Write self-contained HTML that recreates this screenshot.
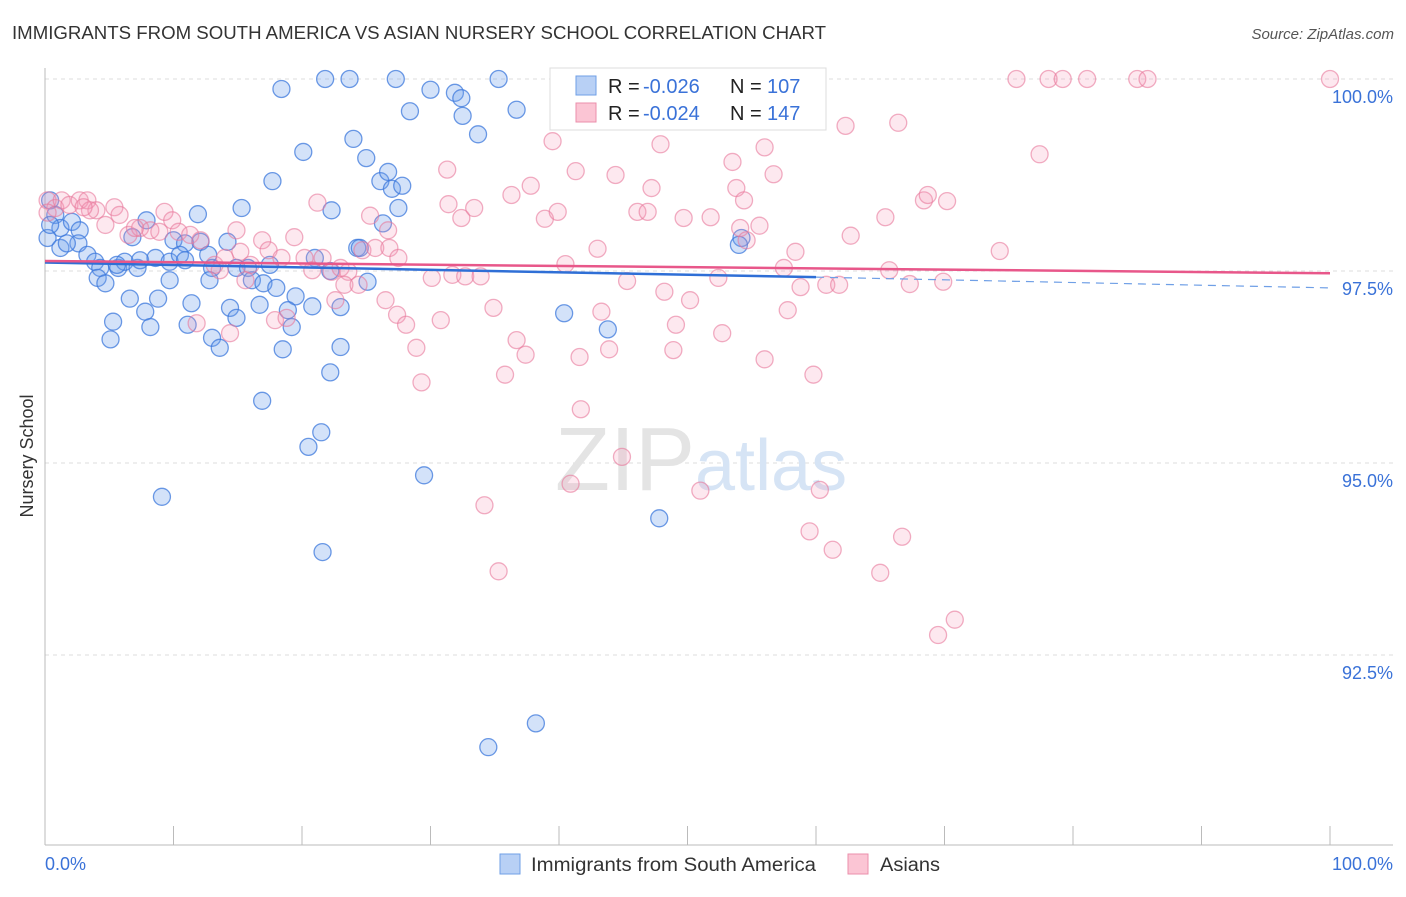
<!DOCTYPE html>
<html><head><meta charset="utf-8"><style>
body{margin:0;background:#fff;font-family:"Liberation Sans",sans-serif}
svg text{font-family:"Liberation Sans",sans-serif}
</style></head><body>
<svg id="chart" width="1406" height="892" xmlns="http://www.w3.org/2000/svg">
<text x="12" y="39" font-size="18" fill="#333" textLength="814" lengthAdjust="spacingAndGlyphs">IMMIGRANTS FROM SOUTH AMERICA VS ASIAN NURSERY SCHOOL CORRELATION CHART</text>
<text x="1394" y="39" font-size="15" fill="#555" text-anchor="end" font-style="italic">Source: ZipAtlas.com</text>
<text transform="translate(33,456) rotate(-90)" font-size="18" fill="#333" text-anchor="middle">Nursery School</text>
<g id="grid"></g>
<g id="axes"></g>
<text x="555" y="490" font-size="90" fill="#e4e4e4" font-family="Liberation Serif">ZIP<tspan fill="#d6e4f5" font-family="Liberation Sans" font-size="72">atlas</tspan></text>
<g id="blue"></g>
<g id="pink"></g>
<g id="trends"></g>
<g>
<rect x="550" y="68" width="276" height="62" fill="#fff" stroke="#ddd"/>
<rect x="576" y="76" width="20" height="19" fill="#b8d0f5" stroke="#6f9fe6"/>
<rect x="576" y="103" width="20" height="19" fill="#fbc5d4" stroke="#eb8fab"/>
<text x="608" y="93" font-size="20" fill="#222">R =</text>
<text x="643" y="93" font-size="20" fill="#3a72d8">-0.026</text>
<text x="730" y="93" font-size="20" fill="#222">N =</text>
<text x="767" y="93" font-size="20" fill="#3a72d8">107</text>
<text x="608" y="120" font-size="20" fill="#222">R =</text>
<text x="643" y="120" font-size="20" fill="#3a72d8">-0.024</text>
<text x="730" y="120" font-size="20" fill="#222">N =</text>
<text x="767" y="120" font-size="20" fill="#3a72d8">147</text>
</g>
<g>
<rect x="500" y="854" width="20" height="20" fill="#b8d0f5" stroke="#6f9fe6"/>
<text x="531" y="871" font-size="19" fill="#333" textLength="285" lengthAdjust="spacingAndGlyphs">Immigrants from South America</text>
<rect x="848" y="854" width="20" height="20" fill="#fbc5d4" stroke="#eb8fab"/>
<text x="880" y="871" font-size="19" fill="#333" textLength="60" lengthAdjust="spacingAndGlyphs">Asians</text>
</g>
</svg>
<script>
const yTicks=[100,97.5,95,92.5];
const yTickLabels=["100.0%","97.5%","95.0%","92.5%"];
const xTickLabels=["0.0%","100.0%"];
const blueX=[18.4,21.8,23.7,27.3,30.0,31.9,32.4,35.3,28.4,32.5,36.7,24.0,33.7,20.1,25.0,17.7,26.1,26.7,27.0,27.8,15.3,22.3,27.5,26.3,11.9,7.9,0.4,0.8,1.2,2.1,2.7,0.2,1.2,2.6,1.7,3.3,3.9,4.3,4.1,4.7,5.7,6.2,7.2,7.4,8.6,9.7,10.0,10.9,10.5,10.9,12.1,12.7,13.0,14.2,12.8,14.9,15.8,16.1,17.5,17.0,14.4,14.9,18.0,19.5,18.9,19.2,16.7,20.8,21.0,23.0,24.3,24.5,25.1,22.2,6.6,8.8,11.4,7.8,5.3,5.1,8.2,11.1,13.0,13.6,18.5,23.0,22.2,16.9,21.5,20.5,29.5,9.1,47.8,21.6,38.2,34.5,40.4,43.8,54.2,54.0,9.7,5.6,0.4,6.8];
const blueY=[99.87,100,100,100,99.86,99.82,99.75,100,99.58,99.52,99.60,99.22,99.28,99.05,98.97,98.67,98.67,98.79,98.57,98.61,98.32,98.29,98.32,98.12,98.24,98.16,98.42,98.23,98.06,98.14,98.03,97.93,97.80,97.86,97.86,97.71,97.62,97.54,97.41,97.34,97.54,97.62,97.54,97.64,97.67,97.62,97.90,97.86,97.71,97.64,97.88,97.71,97.54,97.88,97.38,97.54,97.54,97.38,97.58,97.34,97.02,96.89,97.28,97.17,96.99,96.77,97.06,97.04,97.67,97.03,97.80,97.80,97.36,97.50,97.14,97.14,97.08,96.97,96.84,96.61,96.77,96.80,96.63,96.50,96.48,96.51,96.18,95.81,95.40,95.21,94.84,94.56,94.28,93.84,91.61,91.30,96.95,96.74,97.93,97.84,97.38,97.58,98.10,97.94];
const pinkX=[0.2,0.8,1.3,1.9,2.7,3.3,4.0,4.7,5.4,5.8,6.5,7.4,8.2,9.3,9.9,10.4,11.3,12.1,13.2,13.6,14.9,15.2,16.9,17.4,16.0,18.4,19.4,20.2,21.2,21.6,20.8,22.3,23.0,23.6,22.6,23.3,24.4,24.7,25.7,26.8,27.5,25.3,26.7,26.5,27.4,28.1,28.9,29.3,30.1,30.8,31.7,31.4,32.4,33.4,31.3,32.7,33.9,34.9,35.8,36.7,37.4,36.3,37.8,38.9,39.9,39.5,40.5,41.3,41.6,43.0,43.3,43.9,41.7,44.9,40.9,44.4,45.3,46.1,46.9,47.2,47.9,48.2,49.1,48.9,49.7,50.2,51.0,51.8,52.4,52.7,53.5,53.8,54.1,54.4,54.6,55.6,56.0,56.7,57.5,58.4,57.8,58.8,59.8,56.0,59.5,60.3,60.8,61.3,61.8,62.7,62.3,65.0,65.4,65.7,66.4,66.7,67.3,68.4,68.7,69.9,70.2,69.5,70.8,74.3,75.6,77.4,78.1,79.2,81.1,85.0,85.8,100,35.3,34.2,0.2,3.5,3.0,7.0,8.9,11.8,14.4,17.9,18.8,15.6,14.0];
const pinkY=[98.42,98.32,98.42,98.36,98.42,98.42,98.29,98.10,98.33,98.23,97.97,98.06,98.03,98.27,98.16,98.01,97.97,97.90,97.58,97.51,98.03,97.75,97.90,97.77,97.58,97.67,97.94,97.67,98.39,97.67,97.51,97.49,97.54,97.49,97.12,97.32,97.32,97.77,97.80,97.80,97.67,98.22,98.03,97.12,96.93,96.80,96.50,96.05,97.41,96.86,97.45,98.37,98.19,98.32,98.82,97.43,97.43,97.02,96.15,96.60,96.41,98.49,98.61,98.18,98.27,99.19,97.59,98.80,96.38,97.79,96.97,96.48,95.70,95.08,94.73,98.75,97.37,98.27,98.27,98.58,99.15,97.23,96.80,96.47,98.19,97.12,94.64,98.20,97.41,96.69,98.92,98.58,98.06,98.42,97.90,98.09,99.11,98.76,97.54,97.75,96.99,97.29,96.15,96.35,94.11,94.65,97.32,93.87,97.32,97.96,99.39,93.57,98.20,97.51,99.43,94.04,97.33,98.42,98.49,97.36,98.41,92.76,92.96,97.76,100,99.02,100,100,100,100,100,100,93.59,94.45,98.26,98.29,98.33,98.06,98.01,96.82,96.69,96.86,96.89,97.38,97.67];
const blueTrendX=[0,60,100];
const blueTrendY=[97.61,97.42,97.28];
const pinkTrendX=[0,100];
const pinkTrendY=[97.63,97.47];

const NS="http://www.w3.org/2000/svg";
const X0=45,X1=1330,YTOP=79,PXPER=76.8,YBOT=845;
function sx(v){return X0+(X1-X0)*v/100;}
function sy(v){return YTOP+(100-v)*PXPER;}
function mk(tag,attrs,parent){const e=document.createElementNS(NS,tag);for(const k in attrs)e.setAttribute(k,attrs[k]);parent.appendChild(e);return e;}
const grid=document.getElementById('grid'),axes=document.getElementById('axes');
yTicks.forEach((t,i)=>{
  const l=mk('line',{x1:X0,x2:1393,y1:sy(t),y2:sy(t),stroke:'#ddd','stroke-dasharray':'4,4'},grid);
  
  
  const tx=mk('text',{x:1393,y:sy(t)+24,'font-size':18,fill:'#3a72d8','text-anchor':'end'},axes);
  tx.textContent=yTickLabels[i];
  
  
});
mk('line',{x1:X0,x2:X0,y1:68,y2:YBOT,stroke:'#bbb'},axes);
mk('line',{x1:X0,x2:1393,y1:YBOT,y2:YBOT,stroke:'#bbb'},axes);
for(let i=0;i<=10;i++){const t=mk('line',{x1:sx(i*10),x2:sx(i*10),y1:826,y2:YBOT,stroke:'#bbb'},axes);}
const xl0=mk('text',{x:45,y:870,'font-size':18,fill:'#3a72d8'},axes);xl0.textContent=xTickLabels[0];


const xl1=mk('text',{x:1393,y:870,'font-size':18,fill:'#3a72d8','text-anchor':'end'},axes);xl1.textContent=xTickLabels[1];


function pts(xs,ys,g,fill,stroke,name){
  const n=Math.min(xs.length,ys.length);
  for(let i=0;i<n;i++){
    const c=mk('circle',{cx:sx(xs[i]),cy:sy(ys[i]),r:8.5,fill:fill,stroke:stroke,'stroke-width':1.3},g);
    
    
  }
}
pts(blueX,blueY,document.getElementById('blue'),'rgba(110,160,235,0.3)','rgba(60,120,220,0.75)','point-south-america');
pts(pinkX,pinkY,document.getElementById('pink'),'rgba(245,150,180,0.22)','rgba(232,120,155,0.6)','point-asians');
const tr=document.getElementById('trends');
const bl=mk('line',{x1:sx(blueTrendX[0]),y1:sy(blueTrendY[0]),x2:sx(blueTrendX[1]),y2:sy(blueTrendY[1]),stroke:'#2f6fd6','stroke-width':2.5},tr);


const bd=mk('line',{x1:sx(blueTrendX[1]),y1:sy(blueTrendY[1]),x2:sx(blueTrendX[2]),y2:sy(blueTrendY[2]),stroke:'#6f9fe6','stroke-width':1.2,'stroke-dasharray':'8,6'},tr);


const pl=mk('line',{x1:sx(pinkTrendX[0]),y1:sy(pinkTrendY[0]),x2:sx(pinkTrendX[1]),y2:sy(pinkTrendY[1]),stroke:'#e8578a','stroke-width':2.5},tr);


</script>
</body></html>
